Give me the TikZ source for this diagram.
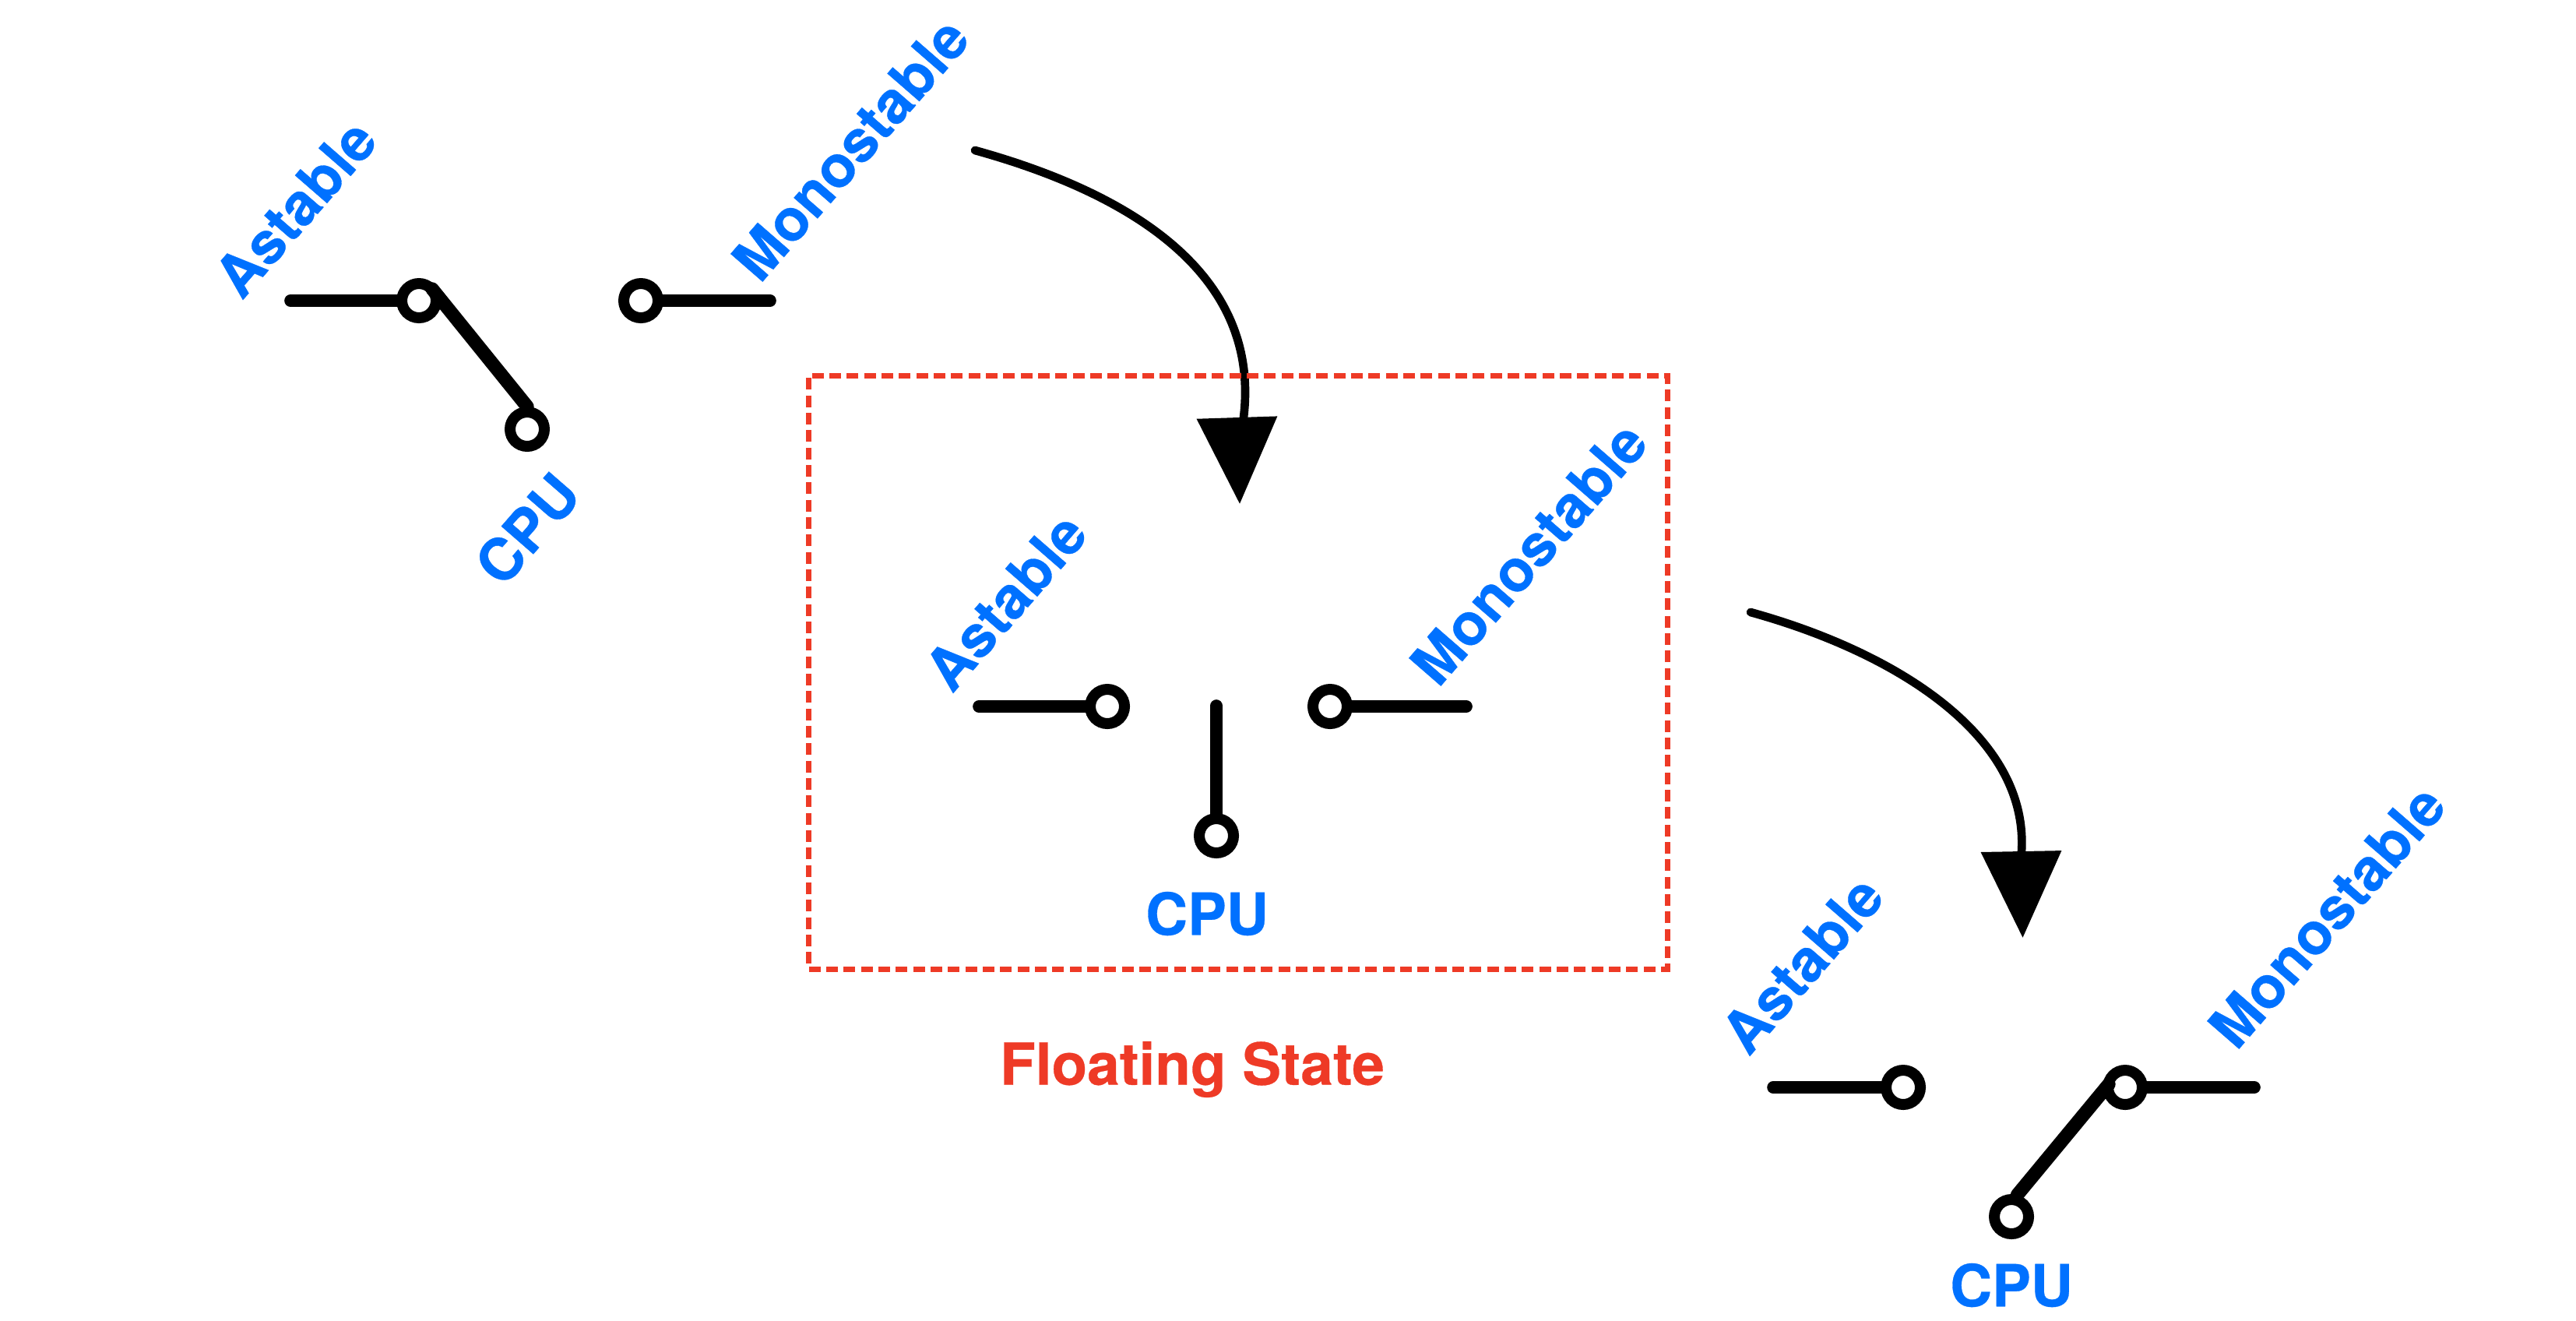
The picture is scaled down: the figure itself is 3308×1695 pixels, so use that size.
\documentclass[tikz,border=0pt]{standalone}
\usepackage{fontspec}
\setmainfont[BoldFeatures={FakeBold=0.4}]{TeX Gyre Heros}
\usepackage{xcolor}
\usepackage{tikz}
\usetikzlibrary{arrows.meta}

\definecolor{lblblue}{HTML}{0071FF}
\definecolor{floatred}{HTML}{EE3A26}

\tikzset{
	term/.style={circle,draw=black,fill=white,line width=4.2pt,minimum size=13.2pt,inner sep=0pt},
	wire/.style={draw=black,line width=4.7pt,line cap=round},
	arm/.style={draw=black,line width=5.2pt,line cap=round},
	flow/.style={draw=black,line width=3.2pt,line cap=round},
	head/.style={draw=black,line width=3.2pt,-{Triangle[length=33.3pt,width=30.3pt]}},
	lbl/.style={text=lblblue,font=\fontsize{22.4pt}{26pt}\selectfont\bfseries,inner sep=0pt},
	tilted/.style={lbl,rotate=49},
	floatbox/.style={draw=floatred,line width=2.1pt,dash pattern=on 4.5pt off 2.2pt,minimum width=330.75pt,minimum height=228.6pt,inner sep=0pt}
}

\begin{document}
\begin{tikzpicture}[x=0.3pt,y=-0.3pt]
	\useasboundingbox (0,0) rectangle (3308,1695);

	% transitions
	\coordinate (s1) at (1252,193);
	\coordinate (b1) at (1597,536);
	\coordinate (h1) at (1588.5,538);
	\coordinate (e1) at (1592,647);
	\coordinate (s2) at (2248,786);
	\coordinate (b2) at (2596,1093);
	\coordinate (h2) at (2595.5,1095);
	\coordinate (e2) at (2597.5,1204);
	\draw[flow] (s1) .. controls (1440,245) and (1620,345) .. (b1);
	\draw[head] (h1) -- (e1);
	\draw[flow] (s2) .. controls (2436,838) and (2605,945) .. (b2);
	\draw[head] (h2) -- (e2);

	\node[floatbox] (fbox) at (1590,863) {};
	\node[lbl,text=floatred] (fstate) at (1531,1373) {Floating State};

	% first position
	\coordinate (a0) at (373,386);
	\coordinate (m0) at (989,386);
	\coordinate (j0) at (555,371);
	\node[term] (ta) at (538,386) {};
	\node[term] (tm) at (823,386) {};
	\node[term] (tc) at (677,551) {};
	\node[tilted] (tla) at (379,267) {Astable};
	\node[tilted] (tlm) at (1092,191) {Monostable};
	\node[tilted] (tlc) at (677,679) {CPU};
	\path[wire]
	(a0) edge (ta)
	(m0) edge (tm);
	\path[arm] (j0) edge (tc.north);

	% floating
	\coordinate (a1) at (1257,907);
	\coordinate (m1) at (1883,907);
	\coordinate (pole) at (1562,906);
	\node[term] (fa) at (1422,907) {};
	\node[term] (fm) at (1708,907) {};
	\node[term] (fc) at (1562,1073) {};
	\node[tilted] (fla) at (1291,772) {Astable};
	\node[tilted] (flm) at (1963,710) {Monostable};
	\node[lbl] (flc) at (1550,1173) {CPU};
	\path[wire]
	(a1) edge (fa)
	(m1) edge (fm)
	(pole) edge (fc);

	% last position
	\coordinate (a2) at (2277,1396);
	\coordinate (m2) at (2895,1396);
	\coordinate (j2) at (2708,1392);
	\node[term] (ba) at (2444,1396) {};
	\node[term] (bm) at (2729,1396) {};
	\node[term] (bc) at (2583,1562) {};
	\node[tilted] (bla) at (2314,1238) {Astable};
	\node[tilted] (blm) at (2988,1176) {Monostable};
	\node[lbl] (blc) at (2583,1650) {CPU};
	\path[wire]
	(a2) edge (ba)
	(m2) edge (bm);
	\path[arm] (j2) edge (bc.75);
\end{tikzpicture}
\end{document}
